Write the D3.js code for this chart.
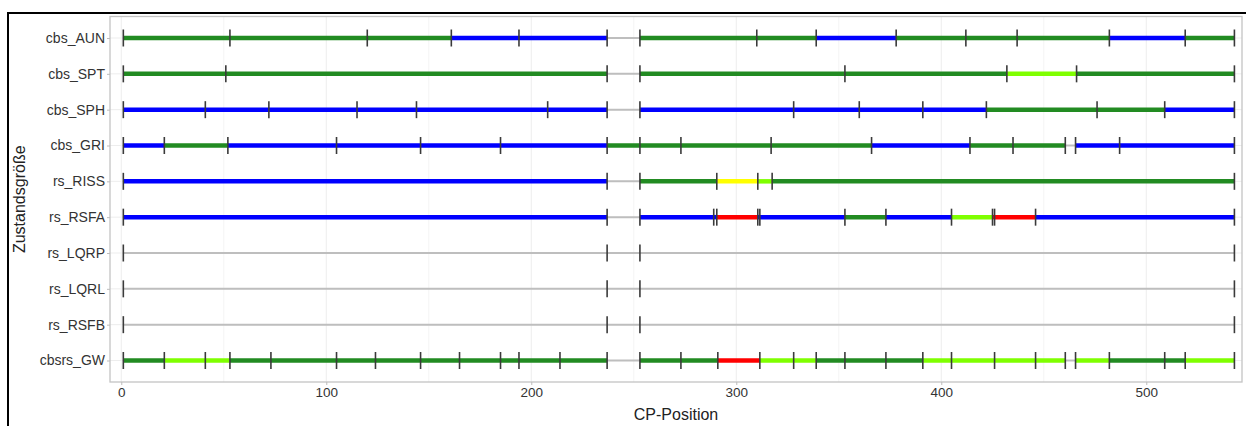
<!DOCTYPE html>
<html>
<head>
<meta charset="utf-8">
<script src="https://cdn.jsdelivr.net/npm/d3@7"></script>
<style>
  html, body { margin: 0; padding: 0; background: #fff; }
  svg { display: block; font-family: "Liberation Sans", Arial, sans-serif; }
</style>
</head>
<body>
<svg id="chart" width="1246" height="426"></svg>
<script>
// Rows (top to bottom)
const rowLabels = ["cbs_AUN", "cbs_SPT", "cbs_SPH", "cbs_GRI", "rs_RISS",
                   "rs_RSFA", "rs_LQRP", "rs_LQRL", "rs_RSFB", "cbsrs_GW"];

// Segment boundaries (CP position) and the state of each segment between them.
// States: G = good, LG = fair, Y = moderate, R = poor, B = not rated, N = no data
const breaks_AUN = [1, 53, 120, 161, 194, 237, 253, 310, 339, 378, 412, 437, 482, 519, 543];
const states_AUN = ["G", "G", "G", "B", "B", "N", "G", "G", "B", "G", "G", "G", "B", "G"];

const breaks_SPT = [1, 51, 237, 253, 353, 432, 466, 543];
const states_SPT = ["G", "G", "N", "G", "G", "LG", "G"];

const breaks_SPH = [1, 41, 72, 115, 144, 208, 237, 253, 328, 360, 391, 422, 476, 509, 543];
const states_SPH = ["B", "B", "B", "B", "B", "B", "N", "B", "B", "B", "B", "G", "G", "B"];

const breaks_GRI = [1, 21, 52, 105, 146, 185, 237, 253, 273, 317, 366, 414, 435, 460.5, 465.5, 487, 543];
const states_GRI = ["B", "G", "B", "B", "B", "B", "G", "G", "G", "G", "B", "G", "G", "N", "B", "B"];

const breaks_RISS = [1, 237, 253, 290.5, 310.5, 317.5, 543];
const states_RISS = ["B", "N", "G", "Y", "LG", "G"];

const breaks_RSFA = [1, 237, 253, 289, 290.5, 310.5, 311.5, 353, 373, 405, 425, 426, 446, 543];
const states_RSFA = ["B", "N", "B", "B", "R", "B", "B", "G", "B", "LG", "R", "R", "B"];

const breaks_LQRP = [1, 237, 253, 543];
const states_LQRP = ["N", "N", "N"];

const breaks_LQRL = [1, 237, 253, 543];
const states_LQRL = ["N", "N", "N"];

const breaks_RSFB = [1, 237, 253, 543];
const states_RSFB = ["N", "N", "N"];

const breaks_GW = [1, 21, 41, 53, 73, 105, 124, 146, 165, 185, 194, 214, 237, 253, 273, 291, 311.5,
                   328, 339, 353, 373, 391, 405, 426, 446, 460.5, 465.5, 482, 509, 519, 543];
const states_GW = ["G", "LG", "LG", "G", "G", "G", "G", "G", "G", "G", "G", "G", "N", "G", "G", "R",
                   "LG", "LG", "G", "G", "G", "LG", "LG", "LG", "LG", "N", "LG", "G", "G", "LG"];

const xTicks = [0, 100, 200, 300, 400, 500];
const xGridMinor = [50, 150, 250, 350, 450];

const rowBreaks = [breaks_AUN, breaks_SPT, breaks_SPH, breaks_GRI, breaks_RISS,
                   breaks_RSFA, breaks_LQRP, breaks_LQRL, breaks_RSFB, breaks_GW];
const rowStates = [states_AUN, states_SPT, states_SPH, states_GRI, states_RISS,
                   states_RSFA, states_LQRP, states_LQRL, states_RSFB, states_GW];

// Flatten into segment and boundary tables
const segments = [];
const boundaries = [];
rowLabels.forEach((row, i) => {
  const b = rowBreaks[i], s = rowStates[i];
  s.forEach((st, k) => segments.push({ row, x0: b[k], x1: b[k + 1], state: st }));
  b.forEach(v => boundaries.push({ row, x: v }));
});

const svg = d3.select("#chart");
const panel = { left: 110, right: 1242, top: 16.5, bottom: 382 };

const x = d3.scaleLinear().domain([-5.5, 546.7]).range([panel.left, panel.right]);
const y = d3.scalePoint().domain(rowLabels).range([panel.top, panel.bottom]).padding(0.6);

const stateColor = d3.scaleOrdinal()
  .domain(["G", "LG", "Y", "R", "B", "N"])
  .range(["#228B22", "#7FFF00", "#FFFF00", "#FF0000", "#0000FF", "#BEBEBE"]);
const stateWidth = st => st === "N" ? 2 : 4.5;

// Figure frame
svg.append("rect")
  .attr("x", 8).attr("y", 13)
  .attr("width", 1260).attr("height", 440)
  .attr("fill", "none").attr("stroke", "#000").attr("stroke-width", 2);

// Grid
const grid = svg.append("g");
grid.selectAll("line.minor").data(xGridMinor).join("line")
  .attr("x1", d => x(d)).attr("x2", d => x(d))
  .attr("y1", panel.top).attr("y2", panel.bottom)
  .attr("stroke", "#F4F4F4").attr("stroke-width", 1);
grid.selectAll("line.major").data(xTicks).join("line")
  .attr("x1", d => x(d)).attr("x2", d => x(d))
  .attr("y1", panel.top).attr("y2", panel.bottom)
  .attr("stroke", "#EDEDED").attr("stroke-width", 1);
grid.selectAll("line.row").data(rowLabels).join("line")
  .attr("x1", panel.left).attr("x2", panel.right)
  .attr("y1", d => y(d)).attr("y2", d => y(d))
  .attr("stroke", "#EDEDED").attr("stroke-width", 1);

// Panel border
svg.append("rect")
  .attr("x", panel.left).attr("y", panel.top)
  .attr("width", panel.right - panel.left).attr("height", panel.bottom - panel.top)
  .attr("fill", "none").attr("stroke", "#C4C4C4").attr("stroke-width", 1.3);

// Segments
svg.append("g").selectAll("line").data(segments).join("line")
  .attr("x1", d => x(d.x0)).attr("x2", d => x(d.x1))
  .attr("y1", d => y(d.row)).attr("y2", d => y(d.row))
  .attr("stroke", d => stateColor(d.state))
  .attr("stroke-width", d => stateWidth(d.state));

// Boundary markers
svg.append("g").selectAll("line").data(boundaries).join("line")
  .attr("x1", d => x(d.x)).attr("x2", d => x(d.x))
  .attr("y1", d => y(d.row) - 8.5).attr("y2", d => y(d.row) + 8.5)
  .attr("stroke", "#3A3A3A").attr("stroke-width", 1.6);

// Axes
const xAxis = svg.append("g")
  .attr("transform", `translate(0,${panel.bottom})`)
  .call(d3.axisBottom(x).tickValues(xTicks).tickSize(3).tickPadding(2).tickFormat(d3.format("d")));
xAxis.select(".domain").remove();
xAxis.selectAll(".tick line").attr("stroke", "#BDBDBD");
xAxis.selectAll(".tick text")
  .attr("fill", "#333").attr("font-size", "13.5px")
  .attr("font-family", "Liberation Sans, Arial, sans-serif");

const yAxis = svg.append("g")
  .attr("transform", `translate(${panel.left},0)`)
  .call(d3.axisLeft(y).tickSize(3).tickPadding(2));
yAxis.select(".domain").remove();
yAxis.selectAll(".tick line").attr("stroke", "#BDBDBD");
yAxis.selectAll(".tick text")
  .attr("fill", "#333").attr("font-size", "14px")
  .attr("font-family", "Liberation Sans, Arial, sans-serif");

// Axis titles
svg.append("text")
  .attr("x", (panel.left + panel.right) / 2).attr("y", 420)
  .attr("text-anchor", "middle").attr("font-size", "16px").attr("fill", "#222")
  .text("CP-Position");

svg.append("text")
  .attr("transform", `translate(25,${(panel.top + panel.bottom) / 2}) rotate(-90)`)
  .attr("text-anchor", "middle").attr("font-size", "16px").attr("fill", "#222")
  .text("Zustandsgröße");
</script>
</body>
</html>
